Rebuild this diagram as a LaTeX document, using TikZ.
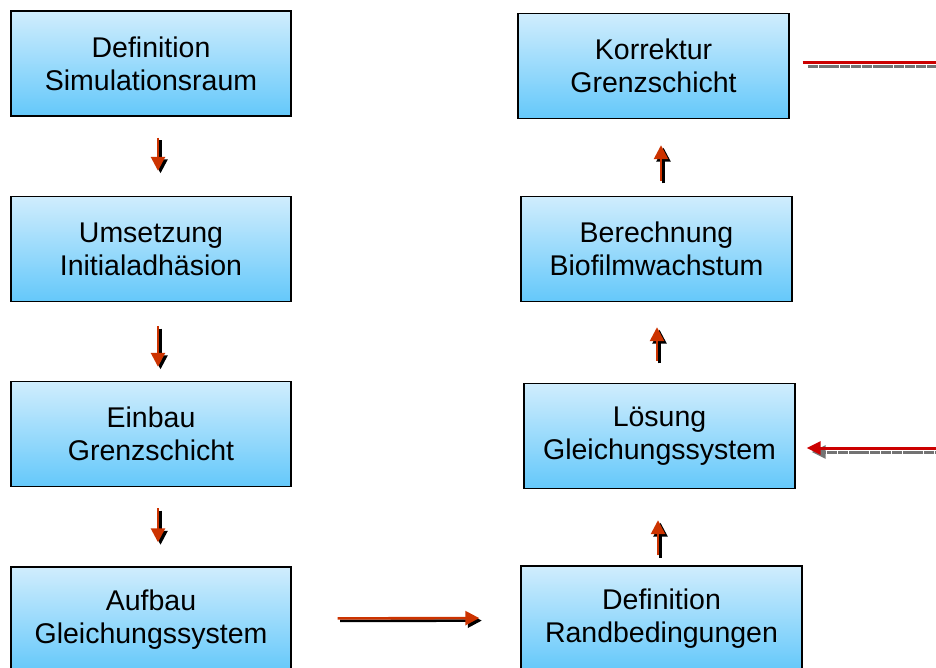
\documentclass[tikz,border=0pt]{standalone}
\usepackage{fontspec}
\setmainfont{Liberation Sans}
\usetikzlibrary{arrows.meta,positioning}
\definecolor{boxtop}{RGB}{208,237,253}
\definecolor{boxbot}{RGB}{100,200,250}
\definecolor{flowred}{RGB}{204,51,0}
\definecolor{linkred}{RGB}{204,0,0}
\tikzset{
	stepbox/.style = {rectangle, draw=black, line width=1.4pt, top color=boxtop, bottom color=boxbot, align=center, inner sep=0pt, minimum width=280pt, minimum height=105pt, font=\fontsize{28.5}{33}\selectfont},
	flow/.style = {draw=flowred, line width=2.6pt, -{Triangle[length=14pt,width=14pt]}},
	flowshadow/.style = {flow, draw=black, transform canvas={xshift=2.5pt,yshift=-2.5pt}},
	link/.style = {draw=linkred, line width=3pt},
	linkshadow/.style = {draw=gray!90!black, line width=3pt, dash pattern=on 10pt off 0.8pt, transform canvas={xshift=5pt,yshift=-4pt}}
}

\begin{document}
\begin{tikzpicture}[x=1pt,y=-1pt]
	\useasboundingbox (0,0) rectangle (936,667);
	% left column
	\node [stepbox] (defsim) at (151,63.5) {Definition\\Simulationsraum};
	\node [stepbox] (umsetz) at (151,249) {Umsetzung\\Initialadhäsion};
	\node [stepbox] (einbau) at (151,434) {Einbau\\Grenzschicht};
	\node [stepbox] (aufbau) at (151,619.5) {Aufbau\\Gleichungssystem};
	% right column
	\node [stepbox, minimum width=271pt] (korr) at (653.5,66) {Korrektur\\Grenzschicht};
	\node [stepbox, minimum width=271pt] (berech) at (656.5,249) {Berechnung\\Biofilmwachstum};
	\node [stepbox, minimum width=271pt] (loesung) at (659.5,436) {Lösung\\Gleichungssystem};
	\node [stepbox, minimum width=281pt] (randb) at (661.5,618.5) {Definition\\Randbedingungen};
	\coordinate (korrout) at (940,62);
	\coordinate (loesin) at (940,448);

	\foreach \style in {flowshadow,flow} {
		\draw [\style, shorten <=21pt, shorten >=25pt] ([xshift=7pt]defsim.south) -- ([xshift=7pt]umsetz.north);
		\draw [\style, shorten <=24pt, shorten >=14pt] ([xshift=7pt]umsetz.south) -- ([xshift=7pt]einbau.north);
		\draw [\style, shorten <=21pt, shorten >=24pt] ([xshift=7pt]einbau.south) -- ([xshift=7pt]aufbau.north);
		\draw [\style, shorten <=46pt, shorten >=41pt] ([yshift=1pt]aufbau.east) -- ([yshift=0.5pt]randb.west);
		\draw [\style, shorten <=10pt, shorten >=31pt] ([xshift=-3.5pt]randb.north) -- ([xshift=-1.5pt]loesung.south);
		\draw [\style, shorten <=22pt, shorten >=25pt] ([xshift=-2.5pt]loesung.north) -- ([xshift=0.5pt]berech.south);
		\draw [\style, shorten <=15pt, shorten >=26pt] ([xshift=4.5pt]berech.north) -- ([xshift=7.5pt]korr.south);
	}
	% lines leaving the picture
	\draw [linkshadow, shorten <=13pt] ([yshift=4pt]korr.east) -- (korrout);
	\draw [link, shorten <=13pt] ([yshift=4pt]korr.east) -- (korrout);
	\draw [linkshadow, -{Triangle[length=14pt,width=13pt]}, shorten >=11pt] (loesin) -- ([yshift=-12pt]loesung.east);
	\draw [link, -{Triangle[length=14pt,width=13pt]}, shorten >=11pt] (loesin) -- ([yshift=-12pt]loesung.east);
\end{tikzpicture}
\end{document}
